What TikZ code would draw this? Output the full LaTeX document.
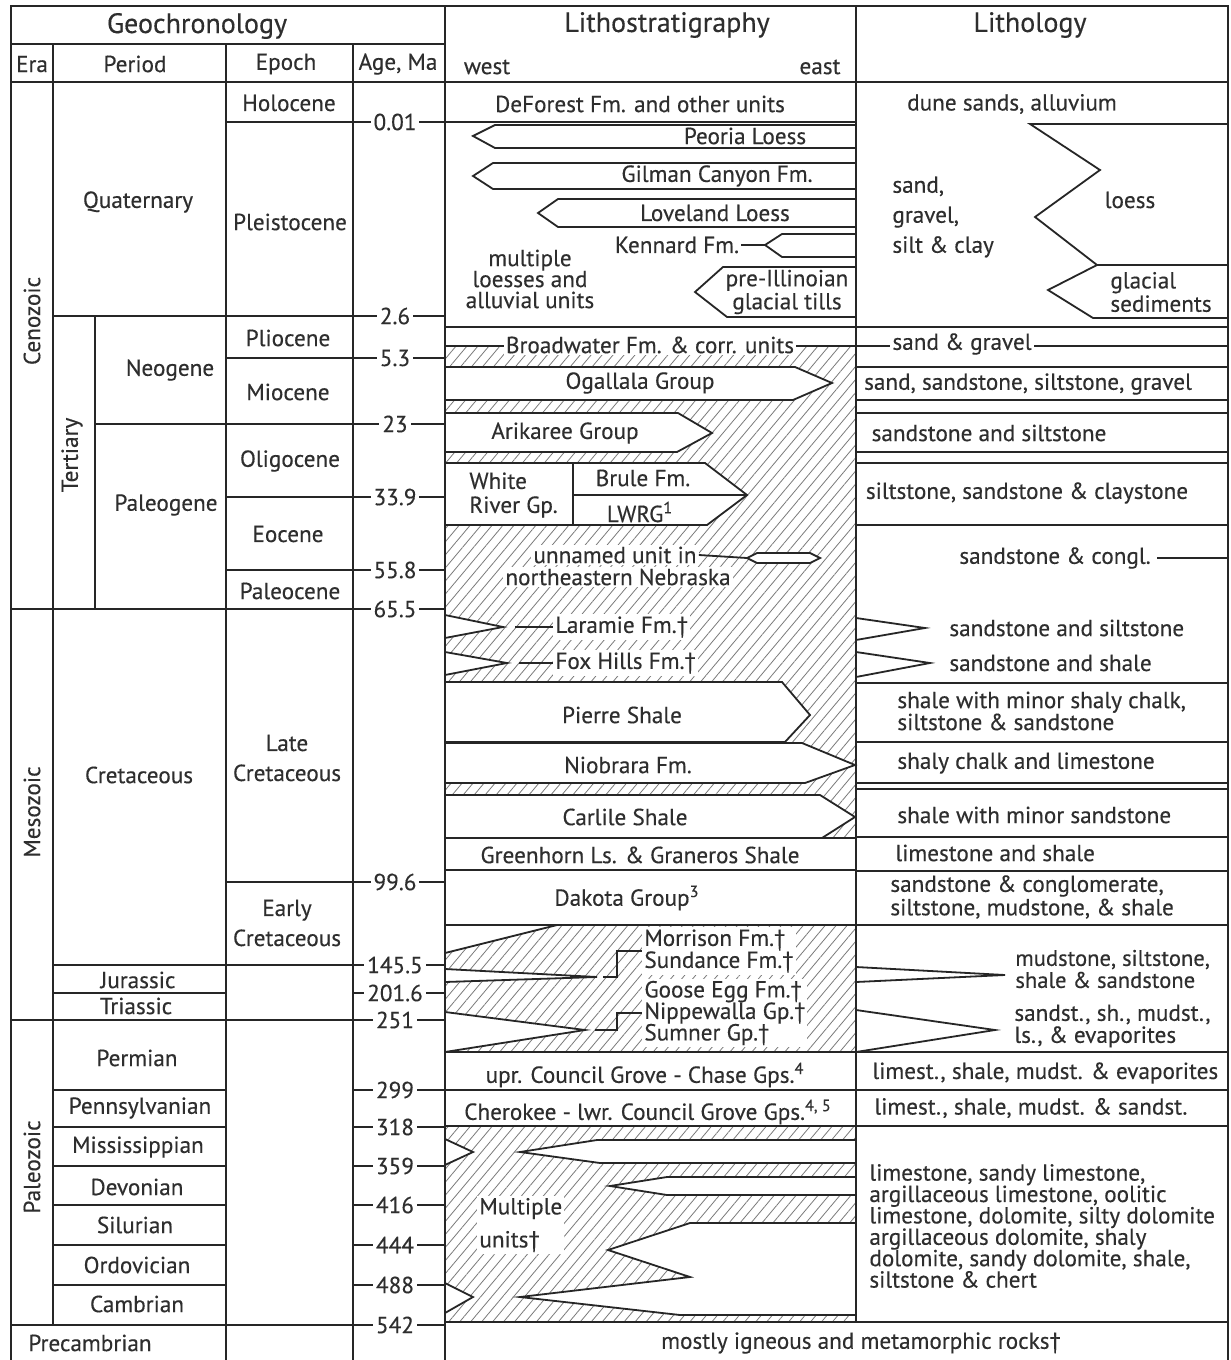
\documentclass[tikz,border=0pt]{standalone}
\usepackage{fontspec}
\setmainfont{PT Sans}[FakeBold=0.3]
\usetikzlibrary{patterns.meta}
\definecolor{ink}{HTML}{262626}
\definecolor{txt}{HTML}{2E2E2E}
\definecolor{hatch}{HTML}{7A7A7A}
\newcommand\myfs[1]{\fontsize{11.6}{#1}\selectfont}
\begin{document}
\begin{tikzpicture}[x=0.5pt,y=-0.5pt,
  ln/.style={draw=ink,line width=0.9pt},
  tx/.style={text=txt,font=\myfs{12pt},inner sep=1pt},
  hd/.style={text=txt,font=\fontsize{14}{16}\selectfont,inner sep=1pt},
  wb/.style={tx,fill=white},
  age/.style={tx,fill=white,inner sep=1.5pt},
  shp/.style={draw=ink,line width=0.9pt,fill=white,line join=miter},
  htch/.style={pattern={Lines[angle=50,distance=4.2pt,line width=0.4pt]},pattern color=hatch},
  ]
% canvas
\fill[white] (0,0) rectangle (1231,1360);
\useasboundingbox (0,0) rectangle (1231,1360);
% hatched areas
\fill[htch] (445,346) rectangle (856,838);
\fill[htch] (445,925) rectangle (856,1052);
\fill[htch] (445,1126) rectangle (856,1322);
% frame and grid
\draw[ln] (11,1360) -- (11,6) -- (1228,6) -- (1228,1360);
\draw[ln] (11,44) -- (445,44);
\draw[ln] (11,82) -- (1228,82);
\draw[ln] (53,44) -- (53,1325);
\draw[ln] (95,316) -- (95,609);
\draw[ln] (226,44) -- (226,1360);
\draw[ln] (353,44) -- (353,1360);
\draw[ln] (445,6) -- (445,1360);
\draw[ln] (856,6) -- (856,1322);
% geochronology boundaries
\draw[ln] (226,122) -- (445,122);
\draw[ln] (53,316) -- (445,316);
\draw[ln] (226,358) -- (445,358);
\draw[ln] (95,424) -- (445,424);
\draw[ln] (226,497) -- (445,497);
\draw[ln] (226,570) -- (445,570);
\draw[ln] (11,609) -- (445,609);
\draw[ln] (226,882) -- (445,882);
\draw[ln] (53,965) -- (445,965);
\draw[ln] (11,1020) -- (445,1020);
\draw[ln] (11,1325) -- (445,1325);
\foreach \yy in {993,1090,1127,1166,1205,1245,1285}{
  \draw[ln] (53,\yy) -- (226,\yy);
  \draw[ln] (353,\yy) -- (445,\yy);
}
% litho row lines
\draw[ln] (445,122) -- (856,122);
\draw[ln] (445,327) -- (1228,327);
\draw[ln] (445,346) -- (1228,346);
\draw[ln] (445,838) -- (856,838);
\draw[ln] (445,870) -- (856,870);
\foreach \yy in {925,1052,1090,1126,1322}{\draw[ln] (445,\yy) -- (1228,\yy);}
\foreach \yy in {367,400,413,452,463,525,683,742,783,789,837,871}{\draw[ln] (856,\yy) -- (1228,\yy);}
% Quaternary lithostratigraphy
\draw[ln] (856,125) -- (495,125) -- (473,136) -- (495,148) -- (856,148);
\draw[ln] (856,163) -- (493,163) -- (473,176) -- (493,189) -- (856,189);
\draw[ln] (856,199) -- (558,199) -- (538,213) -- (558,227) -- (856,227);
\draw[ln] (856,234) -- (782,234) -- (765,245) -- (782,257) -- (856,257);
\draw[ln] (856,267) -- (723,267) -- (695,292) -- (727,317) -- (856,317);
\coordinate (kentip) at (765,245);
% Quaternary lithology
\draw[ln] (1228,124) -- (1030,124) -- (1100,170) -- (1035,217) -- (1097,265) -- (1048,290) -- (1093,318) -- (1228,318);
\draw[ln] (1097,265) -- (1228,265);
% Tertiary units
\filldraw[shp] (445,367) -- (795,367) -- (832,383) -- (793,400) -- (445,400) -- cycle;
\filldraw[shp] (445,413) -- (678,413) -- (712,433) -- (677,452) -- (445,452) -- cycle;
\filldraw[shp] (445,463) -- (705,463) -- (747,495) -- (707,525) -- (445,525) -- cycle;
\draw[ln] (573,463) -- (573,525);
\draw[ln] (573,495) -- (747,495);
\filldraw[shp] (747,558) -- (757,553) -- (810,553) -- (820,558) -- (810,563) -- (757,563) -- cycle;
\coordinate (lensW) at (747,558);
% Cretaceous units
\filldraw[shp] (445,615) -- (503,627) -- (445,638) -- cycle;
\filldraw[shp] (445,652) -- (507,663) -- (445,675) -- cycle;
\coordinate (larL) at (515,627);
\coordinate (foxL) at (519,663);
\filldraw[shp] (445,682) -- (782,682) -- (810,715) -- (785,742) -- (445,742) -- cycle;
\filldraw[shp] (445,743) -- (802,743) -- (855,765) -- (805,783) -- (445,783) -- cycle;
\filldraw[shp] (445,795) -- (820,795) -- (855,817) -- (822,838) -- (445,838) -- cycle;
\draw[ln] (856,618) -- (925,628) -- (856,640);
\draw[ln] (856,652) -- (930,663) -- (856,677);
% Jurassic / Triassic
\filldraw[shp] (445,925) -- (557,925) -- (445,953) -- cycle;
\filldraw[shp] (445,969) -- (597,977) -- (445,982) -- cycle;
\filldraw[shp] (445,1012) -- (585,1030) -- (445,1052) -- cycle;
\coordinate (sundL) at (603,977);
\coordinate (nipL) at (595,1030);
\draw[ln] (856,967) -- (1005,975) -- (856,982);
\draw[ln] (856,1010) -- (995,1030) -- (856,1052);
% Paleozoic
\filldraw[shp] (445,1139) -- (473,1152) -- (445,1165) -- cycle;
\filldraw[shp] (856,1140) -- (597,1140) -- (520,1152) -- (600,1163) -- (856,1163) -- cycle;
\filldraw[shp] (856,1177) -- (667,1177) -- (610,1186) -- (667,1195) -- (856,1195) -- cycle;
\filldraw[shp] (856,1223) -- (690,1223) -- (608,1250) -- (690,1277) -- (520,1297) -- (680,1315) -- (856,1315) -- cycle;
\filldraw[shp] (445,1283) -- (473,1297) -- (445,1313) -- cycle;
% ---------- text: headers
\node[hd] (hgeo) at (197,26) {Geochronology};
\node[hd] (hlst) at (667,25) {Lithostratigraphy};
\node[hd] (hlit) at (1030,25) {Lithology};
\node[tx] (hera) at (32,64) {Era};
\node[tx] (hper) at (135,64) {Period};
\node[tx] (hepo) at (286,64) {Epoch};
\node[tx] (hage) at (398,64) {Age, Ma};
\node[tx] (hwest) at (487,67) {west};
\node[tx] (heast) at (820,67) {east};
% eras
\node[tx,rotate=90] (ceno) at (32,321) {Cenozoic};
\node[tx,rotate=90] (meso) at (32,812) {Mesozoic};
\node[tx,rotate=90] (paleo) at (32,1167) {Paleozoic};
\node[tx,rotate=90] (tert) at (72,455) {Tertiary};
% periods
\node[tx] (quat) at (138,202) {Quaternary};
\node[tx] (neog) at (170,370) {Neogene};
\node[tx] (paleog) at (166,505) {Paleogene};
\node[tx] (cret) at (139,775) {Cretaceous};
\node[tx] (jur) at (138,980) {Jurassic};
\node[tx] (tri) at (136,1006) {Triassic};
\node[tx] (perm) at (137,1058) {Permian};
\node[tx] (penn) at (140,1108) {Pennsylvanian};
\node[tx] (miss) at (138,1147) {Mississippian};
\node[tx] (devo) at (137,1187) {Devonian};
\node[tx] (silu) at (135,1225) {Silurian};
\node[tx] (ordo) at (137,1265) {Ordovician};
\node[tx] (camb) at (137,1304) {Cambrian};
\node[tx] (precam) at (90,1343) {Precambrian};
% epochs
\node[tx] (holo) at (289,103) {Holocene};
\node[tx] (pleis) at (290,222) {Pleistocene};
\node[tx] (plio) at (288,338) {Pliocene};
\node[tx] (mio) at (288,392) {Miocene};
\node[tx] (oligo) at (290,461) {Oligocene};
\node[tx] (eoc) at (288,534) {Eocene};
\node[tx] (paleoc) at (290,591) {Paleocene};
\node[tx,align=center,font=\myfs{15pt}] (latecr) at (287,758) {Late\\Cretaceous};
\node[tx,align=center,font=\myfs{15pt}] (earlycr) at (287,923) {Early\\Cretaceous};
% ages
\foreach \yy/\aa/\nm in {122/0.01/a1,316/2.6/a2,358/5.3/a3,424/23/a4,497/33.9/a5,570/55.8/a6,609/65.5/a7,882/99.6/a8,965/145.5/a9,993/201.6/a10,1020/251/a11,1090/299/a12,1127/318/a13,1166/359/a14,1205/416/a15,1245/444/a16,1285/488/a17,1325/542/a18}{
  \node[age] (\nm) at (395,\yy) {\aa};
}
% lithostratigraphy labels
\node[tx] (defor) at (640,104) {DeForest Fm. and other units};
\node[tx] (peoria) at (745,136) {Peoria Loess};
\node[tx] (gilman) at (717,176) {Gilman Canyon Fm.};
\node[tx] (lovel) at (715,213) {Loveland Loess};
\node[tx] (kenn) at (677,245) {Kennard Fm.};
\draw[ln] (kenn.east) -- (kentip);
\node[tx,align=center,font=\myfs{10pt}] (preill) at (787,292) {pre-Illinoian\\glacial tills};
\node[tx,align=center,font=\myfs{10.5pt}] (multl) at (530,279) {multiple\\loesses and\\alluvial units};
\node[wb] (broad) at (650,345) {Broadwater Fm. \& corr. units};
\node[tx] (ogal) at (640,383) {Ogallala Group};
\node[tx] (arik) at (565,433) {Arikaree Group};
\node[tx,align=left,anchor=west,font=\myfs{12pt}] (whiter) at (467,495) {White\\River Gp.};
\node[tx] (brule) at (643,478) {Brule Fm.};
\node[tx] (lwrg) at (640,512) {LWRG\textsuperscript{1}};
\node[wb] (unn1) at (615,555) {unnamed unit in};
\node[wb] (unn2) at (618,577) {northeastern Nebraska};
\draw[ln] (unn1.east) -- (lensW);
\node[wb,anchor=west] (laram) at (553,627) {Laramie Fm.†};
\node[wb,anchor=west] (foxh) at (553,663) {Fox Hills Fm.†};
\draw[ln] (larL) -- (laram.west);
\draw[ln] (foxL) -- (foxh.west);
\node[tx] (pierre) at (622,715) {Pierre Shale};
\node[tx] (niob) at (628,765) {Niobrara Fm.};
\node[tx] (carl) at (625,817) {Carlile Shale};
\node[tx] (green) at (640,855) {Greenhorn Ls. \& Graneros Shale};
\node[tx] (dak) at (627,898) {Dakota Group\textsuperscript{3}};
\node[wb,align=left,anchor=west,font=\myfs{11pt}] (morr) at (642,951) {Morrison Fm.†\\Sundance Fm.†};
\draw[ln] (sundL) -- ++(14,0) |- (morr.west);
\node[wb,align=left,anchor=west,font=\myfs{10.75pt}] (goose) at (642,1013) {Goose Egg Fm.†\\Nippewalla Gp.†\\Sumner Gp.†};
\draw[ln] (nipL) -- ++(22,0) |- (goose.west);
\node[tx] (council) at (645,1075) {upr. Council Grove - Chase Gps.\textsuperscript{4}};
\node[tx] (cherok) at (648,1112) {Cherokee - lwr. Council Grove Gps.\textsuperscript{4, 5}};
\node[wb,align=left,anchor=west,font=\myfs{16.5pt}] (multu) at (477,1225) {Multiple\\units†};
\node[tx] (igneous) at (861,1343) {mostly igneous and metamorphic rocks†};
% lithology labels
\node[tx] (dune) at (1012,104) {dune sands, alluvium};
\node[tx,align=left,anchor=west,font=\myfs{15pt}] (sgsc) at (890,217) {sand,\\gravel,\\silt \& clay};
\node[tx] (loess) at (1130,200) {loess};
\node[tx,align=left,anchor=west,font=\myfs{10.5pt}] (glac) at (1108,292) {glacial\\sediments};
\node[wb] (sgrav) at (962,344) {sand \& gravel};
\node[tx] (sssg) at (1028,384) {sand, sandstone, siltstone, gravel};
\node[tx] (sands1) at (989,433) {sandstone and siltstone};
\node[tx] (ssc) at (1027,493) {siltstone, sandstone \& claystone};
\node[tx] (congl) at (1055,558) {sandstone \& congl.};
\coordinate (conglE) at (1228,558);
\draw[ln] (congl.east) ++(4,0) -- (conglE);
\node[tx,anchor=west] (sands2) at (947,628) {sandstone and siltstone};
\node[tx,anchor=west] (sandsh) at (947,663) {sandstone and shale};
\node[tx,align=left,anchor=west,font=\myfs{11pt}] (shmin) at (895,711) {shale with minor shaly chalk,\\siltstone \& sandstone};
\node[tx,anchor=west] (shchalk) at (895,763) {shaly chalk and limestone};
\node[tx,anchor=west] (shminss) at (895,815) {shale with minor sandstone};
\node[tx,anchor=west] (limsh) at (893,853) {limestone and shale};
\node[tx,align=left,anchor=west,font=\myfs{10pt}] (sscong) at (888,897) {sandstone \& conglomerate,\\siltstone, mudstone, \& shale};
\node[tx,align=left,anchor=west,font=\fontsize{11.3}{11}\selectfont] (mudsil) at (1013,969) {mudstone, siltstone,\\shale \& sandstone};
\node[tx,align=left,anchor=west,font=\myfs{9.5pt}] (sandsh2) at (1012,1026) {sandst., sh., mudst.,\\ls., \& evaporites};
\node[tx,anchor=west] (limev) at (870,1073) {limest., shale, mudst. \& evaporites};
\node[tx,anchor=west] (limsa) at (872,1108) {limest., shale, mudst. \& sandst.};
\node[tx,align=left,anchor=west,font=\myfs{10.7pt}] (lsblock) at (867,1226) {limestone, sandy limestone,\\argillaceous limestone, oolitic\\limestone, dolomite, silty dolomite\\argillaceous dolomite, shaly\\dolomite, sandy dolomite, shale,\\siltstone \& chert};
\end{tikzpicture}
\end{document}
